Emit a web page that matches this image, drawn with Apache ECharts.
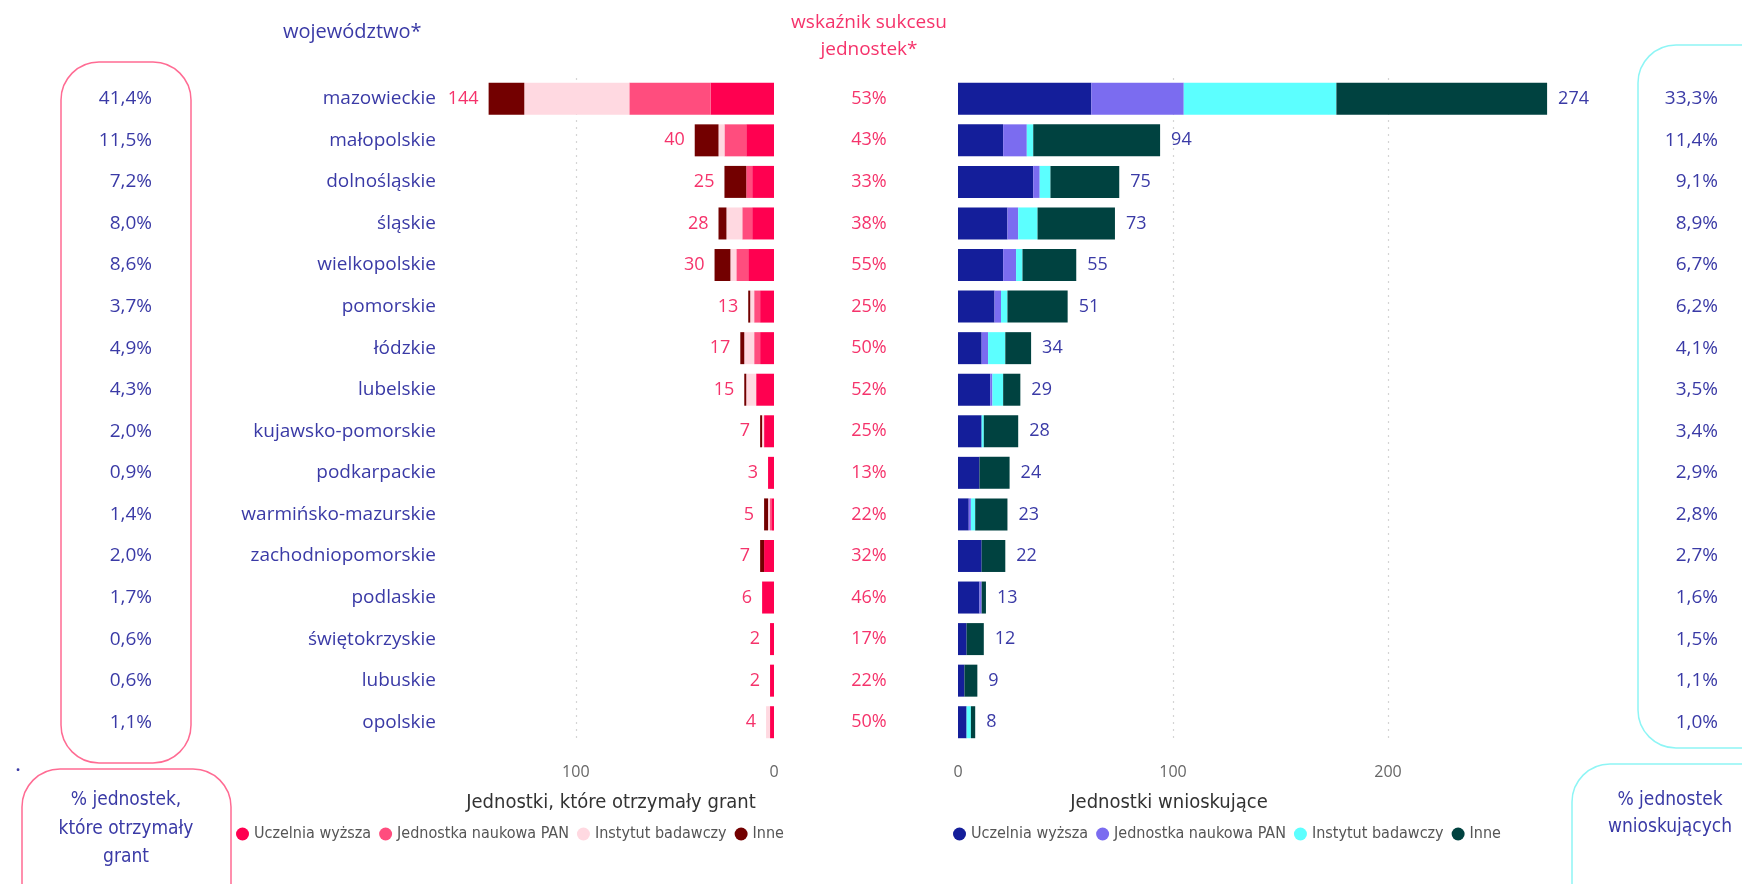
<!DOCTYPE html>
<html>
<head>
<meta charset="utf-8">
<script src="https://cdn.jsdelivr.net/npm/echarts@6/dist/echarts.min.js"></script>
<style>
html,body{margin:0;padding:0;background:#fff;}
#chart{width:1742px;height:884px;}
</style>
</head>
<body>
<div id="chart"></div>
<script>
// ---------- DATA ----------
const regions = ['mazowieckie','małopolskie','dolnośląskie','śląskie','wielkopolskie','pomorskie','łódzkie','lubelskie','kujawsko-pomorskie','podkarpackie','warmińsko-mazurskie','zachodniopomorskie','podlaskie','świętokrzyskie','lubuskie','opolskie'];
const typeNames = ['Uczelnia wyższa','Jednostka naukowa PAN','Instytut badawczy','Inne'];

// Jednostki, które otrzymały grant
const grantUczelnia = [32,14,11,11,13,7,7,9,5,3,1,5,6,2,2,2];
const grantPAN      = [41,11,3,5,6,3,3,0,0,0,1,0,0,0,0,0];
const grantInstytut = [53,3,0,8,3,2,5,5,1,0,1,0,0,0,0,2];
const grantInne     = [18,12,11,4,8,1,2,1,1,0,2,2,0,0,0,0];

// Jednostki wnioskujące
const applUczelnia = [62,21,35,23,21,17,11,15,11,10,5,11,10,4,3,4];
const applPAN      = [43,11,3,5,6,3,3,1,0,0,1,0,1,0,0,0];
const applInstytut = [71,3,5,9,3,3,8,5,1,0,2,0,0,0,0,2];
const applInne     = [98,59,32,36,25,28,12,8,16,14,15,11,2,8,6,2];

const pctGrant   = [41.4,11.5,7.2,8.0,8.6,3.7,4.9,4.3,2.0,0.9,1.4,2.0,1.7,0.6,0.6,1.1];
const successPct = [53,43,33,38,55,25,50,52,25,13,22,32,46,17,22,50];
const pctAppl    = [33.3,11.4,9.1,8.9,6.7,6.2,4.1,3.5,3.4,2.9,2.8,2.7,1.6,1.5,1.1,1.0];

const xTicksLeft = [0,100];
const xTicksRight = [0,100,200];

// ---------- STYLE ----------
const leftColors  = ['#ff0050','#ff4d7e','#ffd9e1','#730000'];
const rightColors = ['#141e9a','#7b6cf0','#5cffff','#004240'];
const blueText = '#3a3aa6';
const pinkText = '#f5336b';
const FONT = '"Open Sans", "Noto Sans", sans-serif';
const NARROW = '"Liberation Sans Narrow", "DejaVu Sans Condensed", "Roboto", sans-serif';

const grantSeries = [grantUczelnia, grantPAN, grantInstytut, grantInne];
const applSeries  = [applUczelnia, applPAN, applInstytut, applInne];
const grantTotals = regions.map((_, i) => grantSeries.reduce((s, a) => s + a[i], 0));
const applTotals  = regions.map((_, i) => applSeries.reduce((s, a) => s + a[i], 0));
const fmtPct = v => v.toFixed(1).replace('.', ',') + '%';

const TOP = 78, HEIGHT = 665;
const chart = echarts.init(document.getElementById('chart'));

const catAxis = (gi, show) => ({
  type: 'category', gridIndex: gi, data: regions, inverse: true,
  show: show,
  axisLine: {show: false}, axisTick: {show: false},
  axisLabel: {show: show, color: blueText, fontSize: 19, fontFamily: FONT, margin: 11}
});

const series = [];
typeNames.forEach((n, k) => {
  series.push({
    name: n, type: 'bar', stack: 'grant', xAxisIndex: 0, yAxisIndex: 0,
    data: grantSeries[k], barWidth: 32, itemStyle: {color: leftColors[k]},
    emphasis: {disabled: true}
  });
});
typeNames.forEach((n, k) => {
  series.push({
    name: n + '\u200b', type: 'bar', stack: 'appl', xAxisIndex: 1, yAxisIndex: 1,
    data: applSeries[k], barWidth: 32, itemStyle: {color: rightColors[k]},
    emphasis: {disabled: true}
  });
});
const labelScatter = (xi, data, label) => ({
  type: 'scatter', xAxisIndex: xi, yAxisIndex: xi, symbolSize: 0, silent: true,
  itemStyle: {opacity: 1}, emphasis: {disabled: true},
  data: data, label: Object.assign({show: true, fontFamily: FONT}, label)
});
// totals
series.push(labelScatter(0, grantTotals.map((v, i) => [v, regions[i]]),
  {position: 'left', distance: 10, color: pinkText, fontSize: 18, formatter: p => p.value[0]}));
series.push(labelScatter(1, applTotals.map((v, i) => [v, regions[i]]),
  {position: 'right', distance: 11, color: blueText, fontSize: 18, formatter: p => p.value[0]}));
// percentage columns
series.push(labelScatter(2, pctGrant.map((v, i) => [1, regions[i], v]),
  {position: 'left', distance: 0, color: blueText, fontSize: 19, formatter: p => fmtPct(p.value[2])}));
series.push(labelScatter(3, successPct.map((v, i) => [0, regions[i], v]),
  {position: 'inside', color: pinkText, fontSize: 18, formatter: p => p.value[2] + '%'}));
series.push(labelScatter(4, pctAppl.map((v, i) => [1, regions[i], v]),
  {position: 'left', distance: 0, color: blueText, fontSize: 19, formatter: p => fmtPct(p.value[2])}));

const GRID_C = '#d4d4d4', NONE = 'rgba(0,0,0,0)';
const valAxis = (gi, inverse, max, ticks) => ({
  type: 'value', gridIndex: gi, inverse: inverse, min: 0, max: max, interval: 100,
  axisLine: {show: false}, axisTick: {show: false},
  axisLabel: {color: '#666', fontSize: 16, fontFamily: FONT, margin: 21,
    formatter: v => (ticks.indexOf(v) >= 0 ? String(v) : '')},
  splitLine: {show: true, lineStyle: {type: [2, 5], width: 1.2,
    color: [NONE].concat(Array(ticks.length - 1).fill(GRID_C)).concat([NONE])}}
});
const hiddenVal = gi => ({type: 'value', gridIndex: gi, min: 0, max: 1, show: false});

const txt = (x, y, text, color, font, align) => ({
  type: 'text', x: x, y: y, silent: true,
  style: {text: text, fill: color, font: font, align: align || 'center', verticalAlign: 'middle',
    textAlign: align || 'center', textVerticalAlign: 'middle'}
});
const box = (x, y, w, h, r, color) => ({
  type: 'rect', silent: true, shape: {x: x, y: y, width: w, height: h, r: r},
  style: {fill: 'none', stroke: color, lineWidth: 1.5}
});

chart.setOption({
  animation: false,
  backgroundColor: '#fff',
  grid: [
    {left: 447, width: 327, top: TOP, height: HEIGHT},
    {left: 958, width: 602, top: TOP, height: HEIGHT},
    {left: 100, width: 52, top: TOP, height: HEIGHT},
    {left: 869, width: 10, top: TOP, height: HEIGHT},
    {left: 1660, width: 58, top: TOP, height: HEIGHT}
  ],
  xAxis: [valAxis(0, true, 165, xTicksLeft), valAxis(1, false, 280, xTicksRight), hiddenVal(2), hiddenVal(3), hiddenVal(4)],
  yAxis: [catAxis(0, true), catAxis(1, false), catAxis(2, false), catAxis(3, false), catAxis(4, false)],
  legend: [
    {data: typeNames, left: 236, top: 826, padding: 0, icon: 'circle', itemWidth: 13, itemHeight: 13, itemGap: 8,
      textStyle: {color: '#555', fontSize: 16, fontFamily: NARROW}, selectedMode: false},
    {data: typeNames.map(n => n + '\u200b'), left: 953, top: 826, padding: 0, icon: 'circle', itemWidth: 13, itemHeight: 13, itemGap: 8,
      textStyle: {color: '#555', fontSize: 16, fontFamily: NARROW}, selectedMode: false,
      formatter: n => n.replace('\u200b', '')}
  ],
  graphic: [
    box(61, 62, 130, 701, 38, '#ff6b93'),
    box(22, 769, 209, 160, 38, '#ff6b93'),
    box(1638, 45, 150, 703, 38, '#8ef5f5'),
    box(1572, 764, 210, 160, 38, '#8ef5f5'),
    txt(283, 32, 'województwo*', blueText, '20px ' + FONT, 'left'),
    txt(869, 23, 'wskaźnik sukcesu', pinkText, '19px ' + FONT),
    txt(869, 50, 'jednostek*', pinkText, '19px ' + FONT),
    txt(611, 803, 'Jednostki, które otrzymały grant', '#333', '20px ' + NARROW),
    txt(1169, 803, 'Jednostki wnioskujące', '#333', '20px ' + NARROW),
    txt(126, 800, '% jednostek,', blueText, '19px ' + NARROW),
    txt(126, 829, 'które otrzymały', blueText, '19px ' + NARROW),
    txt(126, 857, 'grant', blueText, '19px ' + NARROW),
    txt(1670, 800, '% jednostek', blueText, '19px ' + NARROW),
    txt(1670, 827, 'wnioskujących', blueText, '19px ' + NARROW),
    txt(18, 766, '.', blueText, 'bold 16px ' + FONT)
  ],
  series: series
});
</script>
</body>
</html>
